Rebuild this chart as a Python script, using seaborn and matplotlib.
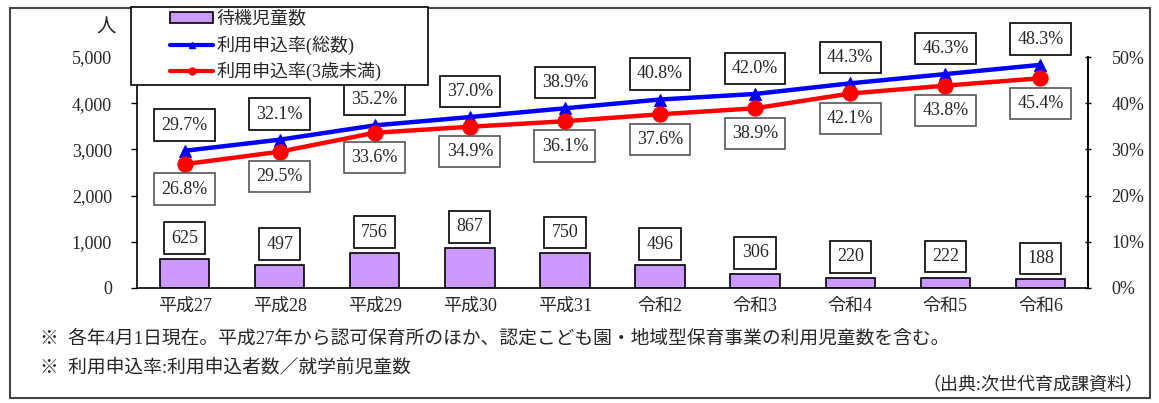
import numpy as np
import pandas as pd
import seaborn as sns
import matplotlib.pyplot as plt
from matplotlib.patches import Patch, Rectangle
from matplotlib.lines import Line2D
from matplotlib.ticker import FuncFormatter, FixedLocator

# data
years = ["平成27", "平成28", "平成29", "平成30", "平成31",
         "令和2", "令和3", "令和4", "令和5", "令和6"]
waiting = [625, 497, 756, 867, 750, 496, 306, 220, 222, 188]
rate_total = [29.7, 32.1, 35.2, 37.0, 38.9, 40.8, 42.0, 44.3, 46.3, 48.3]
rate_under3 = [26.8, 29.5, 33.6, 34.9, 36.1, 37.6, 38.9, 42.1, 43.8, 45.4]

df = pd.DataFrame({"year": years, "waiting": waiting,
                   "total": rate_total, "under3": rate_under3})
df["pos"] = np.arange(len(df))

sns.set_theme(style="white")
plt.rcParams["font.family"] = ["Liberation Serif", "Noto Sans CJK JP"]
plt.rcParams["font.size"] = 13

W, H = 1159, 403
fig = plt.figure(figsize=(W / 100, H / 100), dpi=100)
ax = fig.add_axes([137 / W, 1 - 288 / H, (1088 - 137) / W, (288 - 57) / H])

purple = "#CC99FF"
sns.barplot(data=df, x="year", y="waiting", color=purple, edgecolor="black",
            linewidth=1.2, width=0.52, saturation=1, ax=ax)
ax.set_ylim(0, 5000)
ax.set_xlim(-0.5, len(years) - 0.5)
ax.set_xlabel("")
ax.set_ylabel("")
ax.yaxis.set_major_formatter(FuncFormatter(lambda v, p: f"{int(v):,}"))
ax.set_yticks(np.arange(0, 5001, 1000))
ax.tick_params(axis="y", labelsize=13, length=4, width=1, color="black",
               direction="out", pad=14)
ax.tick_params(axis="x", which="major", length=0, labelsize=13, pad=7)
ax.xaxis.set_minor_locator(FixedLocator(np.arange(0.5, len(years) - 0.5, 1)))
ax.tick_params(axis="x", which="minor", length=4, direction="in", color="black", width=1)
for s in ["left", "bottom", "right"]:
    ax.spines[s].set_color("black")
    ax.spines[s].set_linewidth(1.2)
ax.spines["top"].set_visible(False)

for x, v in zip(df["pos"], df["waiting"]):
    ax.annotate(f"{v}", (x, v), xytext=(0, 9), textcoords="offset points",
                ha="center", va="bottom", fontsize=13,
                bbox=dict(boxstyle="square,pad=0.4", fc="white", ec="black", lw=1.2))

ax2 = ax.twinx()
sns.lineplot(data=df, x="pos", y="total", color="#0000FF", lw=3.2, marker="^",
             markersize=9, markeredgecolor="#0000FF", ax=ax2)
sns.lineplot(data=df, x="pos", y="under3", color="#FF0000", lw=3.2, marker="o",
             markersize=11, markeredgecolor="#FF0000", ax=ax2)
ax2.set_ylim(0, 50)
ax2.set_xlim(-0.5, len(years) - 0.5)
ax2.set_yticks(np.arange(0, 51, 10))
ax2.yaxis.set_major_formatter(FuncFormatter(lambda v, p: f"{int(v)}%"))
ax2.tick_params(axis="y", labelsize=13, length=4, width=1, color="black",
                direction="inout", pad=15)
ax2.set_ylabel("")
ax2.set_xlabel("")
for s in ["top", "left", "bottom"]:
    ax2.spines[s].set_visible(False)
ax2.spines["right"].set_color("black")
ax2.spines["right"].set_linewidth(1.2)

for x, v in zip(df["pos"], df["total"]):
    ax2.annotate(f"{v:.1f}%", (x, v), xytext=(0, 18.5), textcoords="offset points",
                 ha="center", va="center", fontsize=13,
                 bbox=dict(boxstyle="square,pad=0.4", fc="white", ec="black", lw=1.2))
for x, v in zip(df["pos"], df["under3"]):
    ax2.annotate(f"{v:.1f}%", (x, v), xytext=(0, -18), textcoords="offset points",
                 ha="center", va="center", fontsize=13,
                 bbox=dict(boxstyle="square,pad=0.4", fc="white", ec="#555555", lw=1.2))

fig.text(106 / W, 1 - 28 / H, "人", ha="center", va="center", fontsize=14)

# legend: white box with frame, entries placed inside
fig.patches.append(Rectangle((131 / W, 1 - 85 / H), (428 - 131) / W, (85 - 7) / H,
                             transform=fig.transFigure, fc="white", ec="black",
                             lw=1.2, zorder=9))
handles = [
    Patch(facecolor=purple, edgecolor="black", lw=1.2),
    Line2D([], [], color="#0000FF", lw=3, marker="^", markersize=5),
    Line2D([], [], color="#FF0000", lw=3, marker="o", markersize=5),
]
labels = ["待機児童数", "利用申込率(総数)", "利用申込率(3歳未満)"]
leg = fig.legend(handles, labels, loc="upper left",
                 bbox_to_anchor=(170 / W, 1 - 11 / H),
                 fontsize=13, frameon=False, borderpad=0,
                 handlelength=2.4, handleheight=0.6, handletextpad=0.2,
                 labelspacing=0.4, borderaxespad=0)
leg.set_zorder(10)

fig.text(40 / W, 1 - 339 / H,
         "※  各年4月1日現在。平成27年から認可保育所のほか、認定こども園・地域型保育事業の利用児童数を含む。",
         ha="left", va="center", fontsize=13.5)
fig.text(40 / W, 1 - 367 / H, "※  利用申込率:利用申込者数／就学前児童数",
         ha="left", va="center", fontsize=13.5)
fig.text(1143 / W, 1 - 385 / H, "（出典:次世代育成課資料）",
         ha="right", va="center", fontsize=13)

fig.patches.append(Rectangle((10 / W, 1 - 398 / H), 1140 / W, 390 / H,
                             transform=fig.transFigure, fill=False,
                             ec="#444444", lw=1.5))

fig.savefig("out.png", dpi=100)
